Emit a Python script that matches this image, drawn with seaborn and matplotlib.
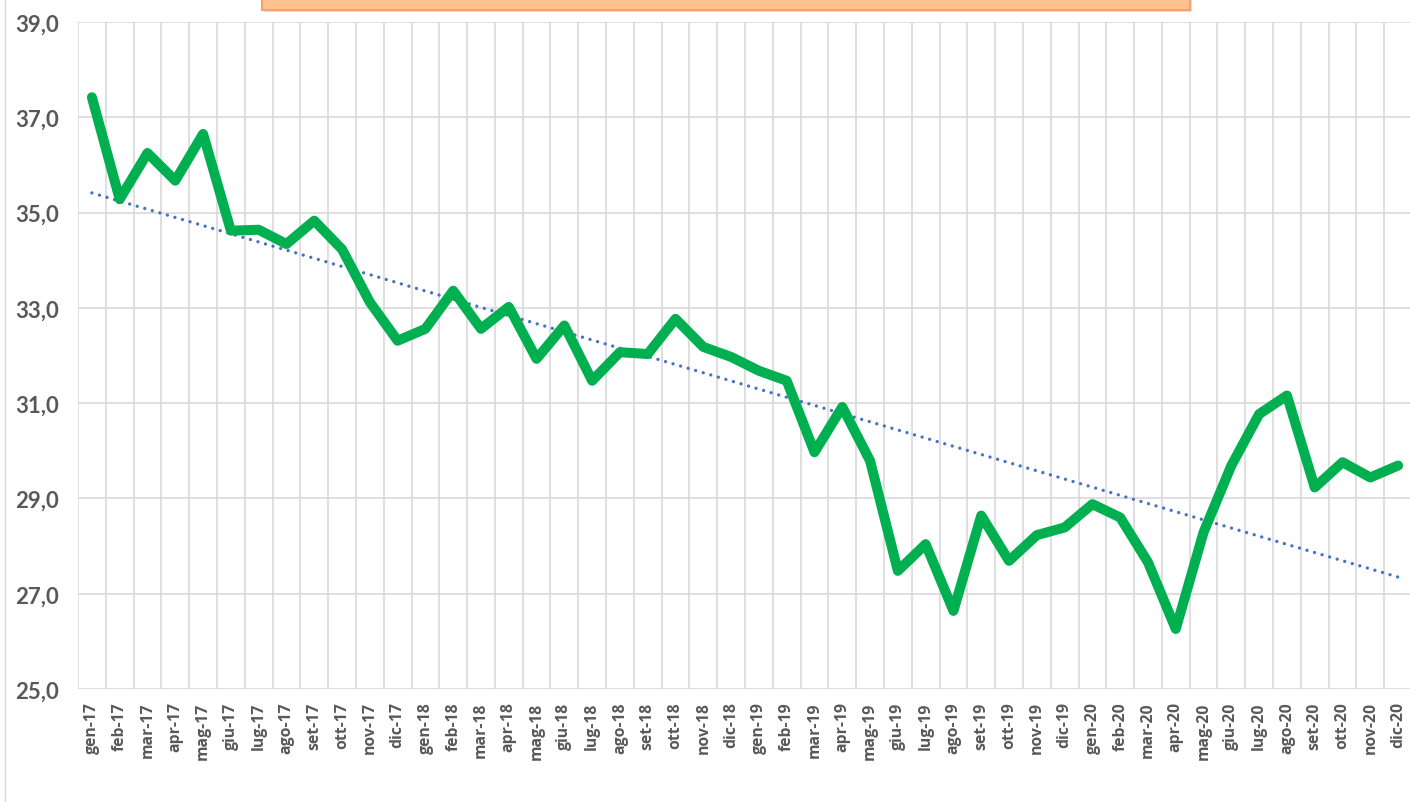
import numpy as np
import pandas as pd
import matplotlib
matplotlib.use("Agg")
import matplotlib.pyplot as plt
import seaborn as sns
from matplotlib.patches import Rectangle
from matplotlib.lines import Line2D

months = ["gen", "feb", "mar", "apr", "mag", "giu", "lug", "ago", "set", "ott", "nov", "dic"]
years = ["17", "18", "19", "20"]
labels = [f"{m}-{y}" for y in years for m in months]

values = [
    37.42, 35.28, 36.25, 35.67, 36.65, 34.62, 34.64, 34.34, 34.83, 34.23, 33.12, 32.31,
    32.56, 33.36, 32.56, 33.02, 31.93, 32.63, 31.47, 32.07, 32.03, 32.77, 32.18, 31.97,
    31.68, 31.47, 29.97, 30.92, 29.79, 27.48, 28.04, 26.64, 28.64, 27.69, 28.23, 28.39,
    28.88, 28.60, 27.66, 26.26, 28.29, 29.69, 30.77, 31.16, 29.23, 29.76, 29.44, 29.69,
]
yticks = [25, 27, 29, 31, 33, 35, 37, 39]
ytick_labels = ["25,0", "27,0", "29,0", "31,0", "33,0", "35,0", "37,0", "39,0"]

df = pd.DataFrame({"pos": np.arange(len(labels)), "mese": labels, "valore": values})
coef = np.polyfit(df["pos"], df["valore"], 1)
df["trend"] = np.polyval(coef, df["pos"])

sns.set_theme(style="white")
fig = plt.figure(figsize=(14.10, 8.03), dpi=100)
ax = fig.add_axes([78 / 1410, 1 - 690 / 803, 1334 / 1410, (690 - 23) / 803])

grid_c = "#d9d9d9"
for y in yticks:
    ax.axhline(y, color=grid_c, lw=1.2, zorder=0)
for b in np.arange(-0.5, len(labels), 1.0):
    ax.axvline(b, color=grid_c, lw=1.2, zorder=0)

sns.lineplot(data=df, x="pos", y="trend", ax=ax, color="#4472c4", lw=2.4,
             linestyle=(0, (0.01, 2.35)), dash_capstyle="round", zorder=3)
sns.lineplot(data=df, x="pos", y="valore", ax=ax, color="#00b050", lw=7.2,
             solid_capstyle="round", solid_joinstyle="round", zorder=4)

ax.set_xlim(-0.5, len(labels) - 0.5)
ax.set_ylim(25, 39)
ax.set_xticks(df["pos"])
ax.set_xticklabels(labels, rotation=90, fontsize=11.3, fontweight="bold",
                   color="#595959", family="Open Sans", va="top", ha="center")
ax.set_yticks(yticks)
ax.set_yticklabels(ytick_labels, fontsize=16, fontweight="bold",
                   color="#595959", family="Lato")
ax.tick_params(axis="x", length=0, pad=9)
ax.tick_params(axis="y", length=0, pad=14)
ax.set_xlabel("")
ax.set_ylabel("")
for s in ax.spines.values():
    s.set_visible(False)
ax.grid(False)

# outer chart border (left edge) and cropped title box at top
fig.add_artist(Line2D([5 / 1410, 5 / 1410], [0, 1], transform=fig.transFigure,
                      color="#d9d9d9", lw=1.0))
fig.patches.append(Rectangle((264 / 1410, 1 - 13 / 803), 928 / 1410, 13 / 803,
                             transform=fig.transFigure, facecolor="#b0b0b0",
                             edgecolor="none", alpha=0.35, zorder=5))
fig.patches.append(Rectangle((262 / 1410, 1 - 11 / 803), 928 / 1410, 12 / 803,
                             transform=fig.transFigure, facecolor="#ffc28f",
                             edgecolor="#f4a46a", lw=1.5, zorder=6))

fig.savefig("out.png", dpi=100)
